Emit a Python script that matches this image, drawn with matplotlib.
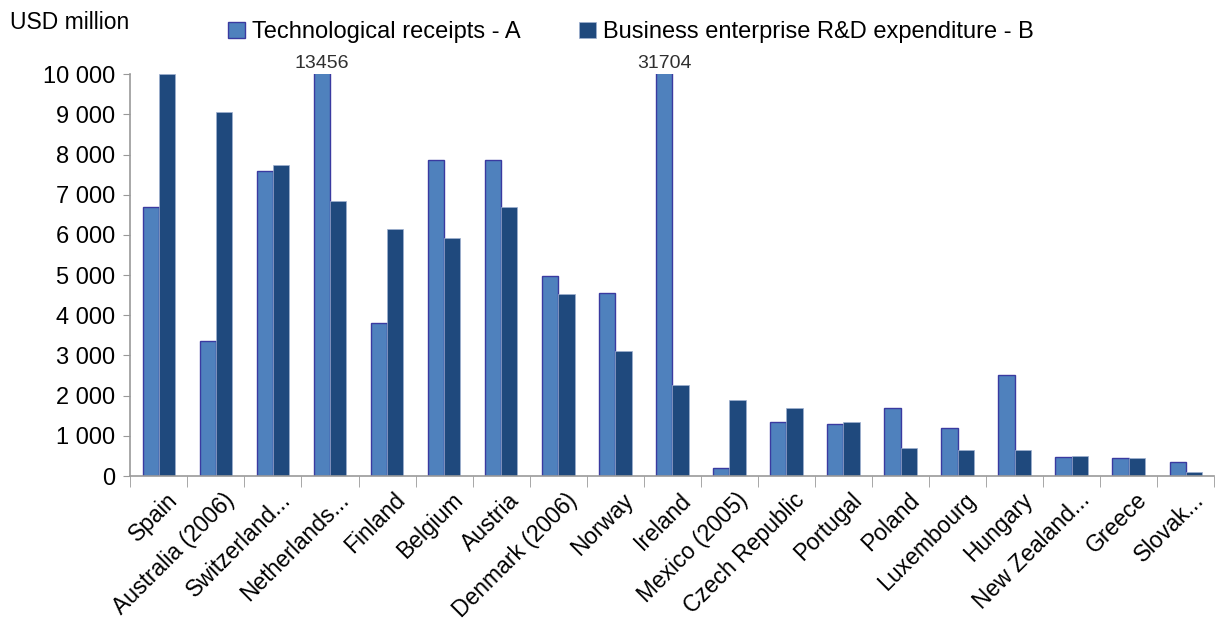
import matplotlib.pyplot as plt
import numpy as np
from matplotlib.ticker import FuncFormatter

plt.rcParams['font.family'] = ['Liberation Sans', 'DejaVu Sans']

countries = ['Spain', 'Australia (2006)', 'Switzerland...', 'Netherlands...', 'Finland',
             'Belgium', 'Austria', 'Denmark (2006)', 'Norway', 'Ireland', 'Mexico (2005)',
             'Czech Republic', 'Portugal', 'Poland', 'Luxembourg', 'Hungary',
             'New Zealand...', 'Greece', 'Slovak...']
tech_receipts = [6700, 3350, 7580, 13456, 3820, 7870, 7870, 4980, 4560, 31704, 200,
                 1340, 1300, 1690, 1200, 2520, 480, 450, 360]
berd = [10000, 9050, 7750, 6850, 6150, 5930, 6700, 4540, 3100, 2270, 1880,
        1700, 1350, 710, 640, 640, 510, 450, 100]
series_names = ['Technological receipts - A', 'Business enterprise R&D expenditure - B']
ymax = 10000

fig = plt.figure(figsize=(12.18, 6.39), dpi=100)
ax = fig.add_axes([0.107, 0.255, 0.89, 0.629])

x = np.arange(len(countries))
w = 1 / 3.5
ax.bar(x - w / 2, tech_receipts, w, color='#4F81BD', edgecolor='#3A3AA0', linewidth=1.0,
       label=series_names[0])
ax.bar(x + w / 2, berd, w, color='#1F497D', edgecolor='#9FB0D0', linewidth=0.5,
       label=series_names[1])

# values cut off at the top get their number written above
for xi, v in zip(x - w / 2, tech_receipts):
    if v > ymax:
        ax.text(xi, ymax * 1.005, str(v), ha='center', va='bottom', fontsize=14,
                color='#303030', clip_on=False)

ax.set_ylim(0, ymax)
ax.set_xlim(-0.5, len(countries) - 0.5)
ax.set_yticks(np.arange(0, ymax + 1, 1000))
ax.yaxis.set_major_formatter(FuncFormatter(lambda v, p: f'{int(v):,}'.replace(',', ' ')))
ax.tick_params(axis='y', labelsize=17, length=5, color='#999999', pad=6)

ax.set_xticks(x + 0.12)
ax.set_xticklabels(countries, rotation=45, ha='right', rotation_mode='anchor', fontsize=16.5)
ax.tick_params(axis='x', length=0, pad=9)
ax.set_xticks(np.arange(len(countries) + 1) - 0.5, minor=True)
ax.tick_params(axis='x', which='minor', length=8, color='#999999')

for s in ['top', 'right']:
    ax.spines[s].set_visible(False)
for s in ['left', 'bottom']:
    ax.spines[s].set_color('#999999')
    ax.spines[s].set_linewidth(1.2)

fig.text(0.008, 0.965, 'USD million', fontsize=16.5, va='center', ha='left')
fig.legend(loc='upper center', bbox_to_anchor=(0.518, 1.0), ncol=2, frameon=False,
           fontsize=17, handlelength=0.7, handleheight=0.7, handletextpad=0.3,
           columnspacing=2.5)

plt.savefig('out.png', dpi=100)
